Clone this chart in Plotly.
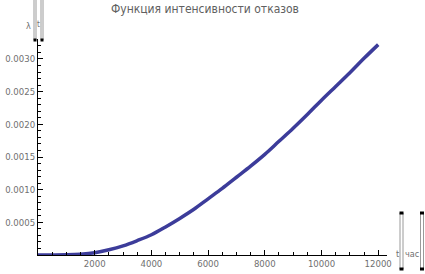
import plotly.graph_objects as go

# ---- data ----
t_hours = [0, 500, 1000, 1500, 2000, 2500, 3000, 3500, 4000, 4500, 5000, 5500, 6000,
           6500, 7000, 7500, 8000, 8500, 9000, 9500, 10000, 10500, 11000, 11500, 12000]
lam = [0.0, 0.0, 0.000002, 0.000012, 0.000035, 0.00008, 0.00014, 0.00022, 0.00031,
       0.00043, 0.00056, 0.00070, 0.00086, 0.00102, 0.00119, 0.00136, 0.00154,
       0.00174, 0.00194, 0.00215, 0.00237, 0.00258, 0.00279, 0.00301, 0.00322]
x_ticks = [2000, 4000, 6000, 8000, 10000, 12000]
x_ticktext = ["2000", "4000", "6000", "8000", "10000", "12000"]
y_ticks = [0.0005, 0.0010, 0.0015, 0.0020, 0.0025, 0.0030]
y_ticktext = ["0.0005", "0.0010", "0.0015", "0.0020", "0.0025", "0.0030"]
title_text = "Функция интенсивности отказов"
x_label = ["t", "час"]
y_label = ["λ", "t"]

# ---- layout geometry ----
W, H = 425, 274
ML, MR, MT, MB = 38, 38, 39, 19
XR = [0, 12310]
YR = [0, 0.003306]
PW, PH = W - ML - MR, H - MT - MB


def px(x):
    return (x - ML) / PW


def py(y):
    return (H - MB - y) / PH


FONT = "DejaVu Sans Condensed, Liberation Sans Narrow, sans-serif"
GRAY = "#707070"

fig = go.Figure()
fig.add_trace(go.Scatter(x=t_hours, y=lam, mode="lines",
                         line=dict(color="#3c3c9a", width=3.5, shape="spline")))

fig.update_layout(
    width=W, height=H, margin=dict(l=ML, r=MR, t=MT, b=MB, autoexpand=False),
    plot_bgcolor="white",
    xaxis=dict(range=XR, showgrid=False, zeroline=False, automargin=False,
               showline=True, linecolor="black",
               tickmode="array", tickvals=x_ticks, ticktext=x_ticktext,
               ticks="inside", ticklen=5, tickcolor="#000000", tickwidth=1,
               tickfont=dict(family=FONT, size=9.5, color=GRAY),
               minor=dict(dtick=500, tick0=0, ticks="inside", ticklen=3,
                          tickcolor="#000000", tickwidth=1, showgrid=False)),
    yaxis=dict(range=YR, showgrid=False, zeroline=False, automargin=False,
               showline=True, linecolor="black",
               tickmode="array", tickvals=y_ticks, ticktext=y_ticktext,
               ticks="inside", ticklen=5, tickcolor="#000000", tickwidth=1,
               tickfont=dict(family=FONT, size=9.5, color=GRAY),
               minor=dict(dtick=0.0001, tick0=0, ticks="inside", ticklen=3,
                          tickcolor="#000000", tickwidth=1, showgrid=False)),
)

ann = [
    dict(text=title_text, x=px(205), y=py(9), font=dict(family=FONT, size=12, color="#606060")),
    dict(text=y_label[0], x=px(28), y=py(26), font=dict(family=FONT, size=9, color=GRAY)),
    dict(text=y_label[1], x=px(38.5), y=py(25), font=dict(family=FONT, size=8, color=GRAY)),
    dict(text=x_label[0], x=px(397.5), y=py(254), font=dict(family=FONT, size=9, color=GRAY)),
    dict(text=x_label[1], x=px(411.5), y=py(254), font=dict(family=FONT, size=9, color=GRAY)),
]
for a in ann:
    a.update(xref="paper", yref="paper", showarrow=False, xanchor="center", yanchor="middle")
    fig.add_annotation(**a)


def bracket(x0, x1, y0, y1, sq_top, sq_bot):
    for xx in (x0, x1):
        fig.add_shape(type="line", xref="paper", yref="paper",
                      x0=px(xx), x1=px(xx), y0=py(y0), y1=py(y1),
                      line=dict(color="#9a9a9a", width=1))
    for flag, yy in ((sq_top, y0), (sq_bot, y1)):
        if flag:
            fig.add_shape(type="rect", xref="paper", yref="paper",
                          x0=px(x0 - 0.5), x1=px(x1 + 0.5),
                          y0=py(yy - 1.5), y1=py(yy + 1.5),
                          fillcolor="black", line=dict(width=0))


bracket(34, 36, 0, 40, False, True)
bracket(41, 43, 0, 40, False, True)
bracket(400, 403, 213, 269, True, True)
bracket(420.5, 423.5, 213, 269, True, True)

fig.write_html("out.html")
